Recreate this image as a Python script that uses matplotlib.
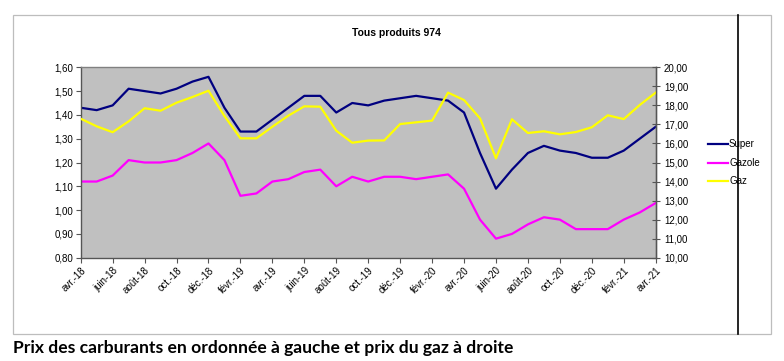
import matplotlib
matplotlib.use("Agg")
import matplotlib.pyplot as plt
from matplotlib.patches import Rectangle
from matplotlib.lines import Line2D

months = ["avr.-18","mai-18","juin-18","juil.-18","août-18","sept.-18","oct.-18","nov.-18","déc.-18",
          "janv.-19","févr.-19","mars-19","avr.-19","mai-19","juin-19","juil.-19","août-19","sept.-19",
          "oct.-19","nov.-19","déc.-19","janv.-20","févr.-20","mars-20","avr.-20","mai-20","juin-20",
          "juil.-20","août-20","sept.-20","oct.-20","nov.-20","déc.-20","janv.-21","févr.-21","mars-21","avr.-21"]

super_ = [1.43,1.42,1.44,1.51,1.50,1.49,1.51,1.54,1.56,1.43,1.33,1.33,1.38,1.43,1.48,
          1.48,1.41,1.45,1.44,1.46,1.47,1.48,1.47,1.46,1.41,1.24,1.09,1.17,1.24,1.27,
          1.25,1.24,1.22,1.22,1.25,1.30,1.35]
gazole = [1.12,1.12,1.145,1.21,1.20,1.20,1.21,1.24,1.28,1.21,1.06,1.07,1.12,1.13,1.16,
          1.17,1.10,1.14,1.12,1.14,1.14,1.13,1.14,1.15,1.09,0.96,0.88,0.90,0.94,0.97,
          0.96,0.92,0.92,0.92,0.96,0.99,1.03]
gaz = [17.30,16.90,16.59,17.16,17.85,17.72,18.14,18.44,18.77,17.44,16.27,16.27,16.88,17.46,17.95,
       17.93,16.67,16.04,16.15,16.16,17.02,17.11,17.20,18.67,18.28,17.32,15.22,17.27,16.55,16.64,
       16.48,16.60,16.85,17.48,17.28,18.02,18.67]

left_ticks = [0.80,0.90,1.00,1.10,1.20,1.30,1.40,1.50,1.60]
right_ticks = [10,11,12,13,14,15,16,17,18,19,20]

W, H = 784, 361
fig = plt.figure(figsize=(W/100, H/100), dpi=100)
fig.patch.set_facecolor("white")
plt.rcParams['font.family'] = ['Liberation Sans', 'DejaVu Sans']

# outer chart frame
fig.add_artist(Rectangle((13.3/W, 1-334/H), (770.7-13.3)/W, (334-14.7)/H,
                         transform=fig.transFigure, fill=False, edgecolor="#bdbdbd", lw=0.9))

ax = fig.add_axes([80.7/W, 1-257.7/H, (655.7-80.7)/W, (257.7-67.3)/H])
ax.set_facecolor("#c0c0c0")
x = list(range(len(months)))
l1, = ax.plot(x, super_, color="#000080", lw=1.6, label="Super")
l2, = ax.plot(x, gazole, color="#ff00ff", lw=1.6, label="Gazole")
ax.set_xlim(0, len(months)-1)
ax.set_ylim(0.80, 1.60)
ax.set_yticks(left_ticks)
ax.set_yticklabels([f"{v:.2f}".replace(".", ",") for v in left_ticks])
xt = x[::2]
ax.set_xticks(xt)
ax.set_xticklabels([months[i] for i in xt], rotation=45, ha="right", rotation_mode="anchor")
ax.tick_params(axis="both", labelsize=7, colors="#000000", length=3.5, width=0.8, pad=2)
ax.tick_params(axis="y", color="#555555")
ax.tick_params(axis="x", color="#555555")
for s in ax.spines.values():
    s.set_color("#808080")
    s.set_linewidth(1.0)
ax.spines["left"].set_color("#555555")
ax.spines["bottom"].set_color("#555555")

ax2 = ax.twinx()
l3, = ax2.plot(x, gaz, color="#ffff00", lw=1.6, label="Gaz")
ax2.set_ylim(10, 20)
ax2.set_yticks(right_ticks)
ax2.set_yticklabels([f"{v:.2f}".replace(".", ",") for v in right_ticks])
ax2.tick_params(axis="y", labelsize=7, direction="inout", length=6, width=0.8, color="#555555", pad=3)
ax2.spines["right"].set_color("#555555")
ax2.spines["right"].set_linewidth(1.0)
for s in ["top", "left", "bottom"]:
    ax2.spines[s].set_visible(False)

fig.text(396/W, 1-33/H, "Tous produits 974", ha="center", va="center",
         fontsize=7.5, fontweight="bold")

# legend
leg_y = [144, 162.7, 181.3]
for (ln, yy) in zip([l1, l2, l3], leg_y):
    fig.add_artist(Line2D([708/W, 728/W], [1-yy/H, 1-yy/H], transform=fig.transFigure,
                          color=ln.get_color(), lw=1.6))
    fig.text(729/W, 1-yy/H, ln.get_label(), ha="left", va="center", fontsize=7)

# black vertical line
fig.add_artist(Line2D([738.3/W, 738.3/W], [1-14.7/H, 1-334/H], transform=fig.transFigure,
                      color="black", lw=1.2, zorder=10))

fig.text(13.5/W, 1-353/H, "Prix des carburants en ordonnée à gauche et prix du gaz à droite",
         ha="left", va="baseline", fontsize=12.6, fontweight="bold", family=["Lato", "DejaVu Sans"])

fig.savefig("out.png", dpi=100)
